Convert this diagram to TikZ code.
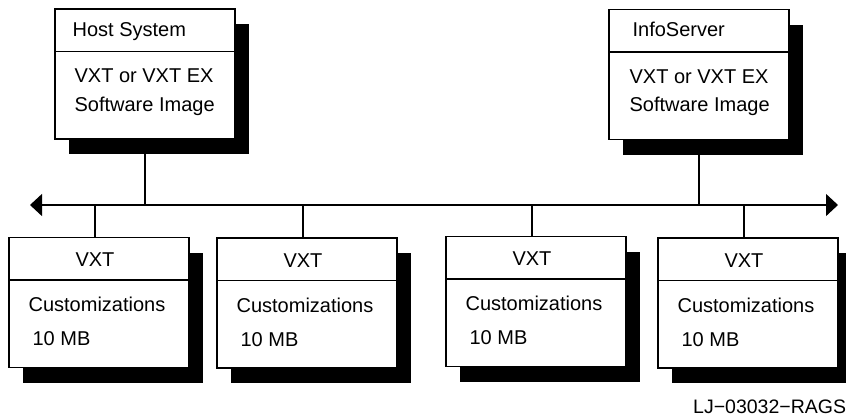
\documentclass[tikz,border=0pt]{standalone}
\usepackage{fontspec}
\setmainfont{Liberation Sans}
\usetikzlibrary{positioning, shadows, arrows.meta}

\begin{document}
\begin{tikzpicture}[x=1pt, y=-1pt,
      unit/.style={rectangle, draw, line width=1.2pt, fill=white, minimum width=180pt, minimum height=130pt,
      inner sep=0pt, drop shadow={shadow xshift=14pt, shadow yshift=-15pt, fill=black, opacity=1}},
      boxtext/.style={anchor=base west, inner sep=0pt, font=\fontsize{20}{24}\selectfont},
      wire/.style={line width=1.2pt}
    ]
      \useasboundingbox (0,0) rectangle (846,416);

      % servers on top
      \node[unit] (host) at (145,74) {};
      \draw[wire] ([yshift=-43pt]host.north west) -- ([yshift=-43pt]host.north east);
      \node[boxtext] (hostname) at ([xshift=18pt, yshift=-28pt]host.north west) {Host System};
      \node[boxtext] (hostimgA) at ([xshift=20pt, yshift=-74pt]host.north west) {VXT or VXT EX};
      \node[boxtext] (hostimgB) at ([xshift=20pt, yshift=-103pt]host.north west) {Software Image};

      \node[unit] (info) at (699,74.5) {};
      \draw[wire] ([yshift=-43pt]info.north west) -- ([yshift=-43pt]info.north east);
      \node[boxtext] (infoname) at ([xshift=24pt, yshift=-28pt]info.north west) {InfoServer};
      \node[boxtext] (infoimgA) at ([xshift=21pt, yshift=-75pt]info.north west) {VXT or VXT EX};
      \node[boxtext] (infoimgB) at ([xshift=21pt, yshift=-103pt]info.north west) {Software Image};

      % network
      \coordinate (busL) at (30,205);
      \coordinate (busR) at (838,205);
      \draw[wire, {Triangle[length=12pt, width=22pt]}-{Triangle[length=12pt, width=22pt]}] (busL) -- (busR);
      \draw[wire] (host.south) -- (host.south |- busL);
      \draw[wire] (info.south) -- (info.south |- busL);

      % terminals
      \foreach \n/\px/\py in {vxtA/99/302.5, vxtB/307/303, vxtC/536/301.5, vxtD/748/303} {
        \node[unit] (\n) at (\px,\py) {};
        \draw[wire] ([yshift=-43pt]\n.north west) -- ([yshift=-43pt]\n.north east);
        \node[boxtext, anchor=base] (\n-name) at ([xshift=-4pt, yshift=-30pt]\n.north) {VXT};
        \node[boxtext] (\n-cust) at ([xshift=20pt, yshift=-75pt]\n.north west) {Customizations};
        \node[boxtext] (\n-size) at ([xshift=24pt, yshift=-109pt]\n.north west) {10 MB};
        \draw[wire] ([xshift=-4pt]\n.north) -- ([xshift=-4pt]\n.north |- busL);
      }

      \node[boxtext, font=\fontsize{19.5}{22}\selectfont] (tag) at (693,413) {LJ−03032−RAGS};
    \end{tikzpicture}
\end{document}
